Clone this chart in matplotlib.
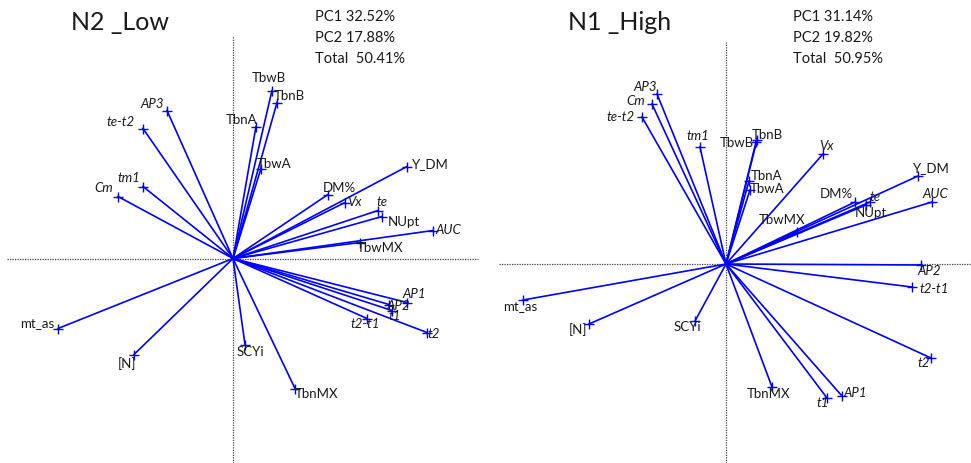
import matplotlib.pyplot as plt

plt.rcParams['font.family'] = ['Lato', 'DejaVu Sans']

# loadings (PC1, PC2)
low_names = ['AP3', 'te-t2', 'tm1', 'Cm', 'TbwB', 'TbnB', 'TbnA', 'TbwA',
             'Y_DM', 'DM%', 'Vx', 'te', 'NUpt', 'AUC', 'TbwMX', 'mt_as',
             '[N]', 'SCYi', 'TbnMX', 'AP1', 'AP2', 't1', 't2-t1', 't2']
low_pc1 = [-0.33, -0.45, -0.45, -0.575, 0.195, 0.22, 0.115, 0.14,
           0.87, 0.475, 0.56, 0.725, 0.745, 1.0, 0.635, -0.875,
           -0.495, 0.06, 0.31, 0.87, 0.78, 0.795, 0.67, 0.97]
low_pc2 = [0.74, 0.65, 0.36, 0.31, 0.84, 0.78, 0.66, 0.45,
           0.46, 0.32, 0.28, 0.24, 0.21, 0.14, 0.08, -0.35,
           -0.48, -0.43, -0.65, -0.22, -0.23, -0.26, -0.30, -0.37]

high_names = ['AP3', 'Cm', 'te-t2', 'tm1', 'TbnB', 'TbwB', 'Vx', 'Y_DM',
              'TbnA', 'TbwA', 'AUC', 'DM%', 'te', 'NUpt', 'TbwMX', 'AP2',
              't2-t1', 't2', 'TbnMX', 't1', 'AP1', 'mt_as', '[N]', 'SCYi']
high_pc1 = [-0.345, -0.37, -0.42, -0.13, 0.155, 0.15, 0.485, 0.96,
            0.115, 0.12, 1.03, 0.645, 0.72, 0.70, 0.355, 0.975,
            0.93, 1.025, 0.23, 0.505, 0.58, -1.015, -0.685, -0.155]
high_pc2 = [0.85, 0.80, 0.735, 0.585, 0.62, 0.61, 0.55, 0.44,
            0.415, 0.37, 0.31, 0.31, 0.31, 0.295, 0.16, -0.005,
            -0.115, -0.47, -0.615, -0.67, -0.66, -0.18, -0.30, -0.285]

titles = ['N2 _Low', 'N1 _High']
pc_text = ['PC1 32.52%\nPC2 17.88%\nTotal  50.41%',
           'PC1 31.14%\nPC2 19.82%\nTotal  50.95%']

italic = {'AP1', 'AP2', 'AP3', 'te-t2', 'tm1', 'Cm', 'Vx', 'te', 'AUC',
          't1', 't2', 't2-t1'}

# label placement: ha, dx, dy (pixels from the marker)
low_lab = {'AP3': ('right', -3, 7), 'te-t2': ('right', -8, 6),
           'tm1': ('right', -3, 9), 'Cm': ('right', -5, 8),
           'TbwB': ('center', -3, 12), 'TbnB': ('left', -3, 7),
           'TbnA': ('right', 1, 7), 'TbwA': ('left', -4, 4),
           'Y_DM': ('left', 5, 2), 'DM%': ('left', -5, 7),
           'Vx': ('left', 2, 0), 'te': ('left', -1, 8),
           'NUpt': ('left', 6, -5), 'AUC': ('left', 2, 0),
           'TbwMX': ('left', -3, -6), 'mt_as': ('right', -4, 5),
           '[N]': ('center', -7, -9), 'SCYi': ('left', -8, -8),
           'TbnMX': ('left', 0, -5), 'AP1': ('left', -5, 9),
           'AP2': ('left', -3, -1), 't1': ('left', -3, -6),
           't2-t1': ('left', -16, -5), 't2': ('left', 1, -2)}
high_lab = {'AP3': ('right', 0, 7), 'Cm': ('right', -7, 3),
            'te-t2': ('right', -7, 0), 'tm1': ('center', -2, 11),
            'TbnB': ('left', -5, 5), 'TbwB': ('right', -2, -1),
            'Vx': ('center', 4, 8), 'Y_DM': ('left', -5, 8),
            'TbnA': ('left', 2, 5), 'TbwA': ('left', 0, 1),
            'AUC': ('center', 3, 8), 'DM%': ('right', -2, 8),
            'te': ('left', 0, 5), 'NUpt': ('left', -11, -8),
            'TbwMX': ('center', -15, 12), 'AP2': ('left', -4, -6),
            't2-t1': ('left', 8, -2), 't2': ('center', -7, -5),
            'TbnMX': ('center', -3, -7), 't1': ('center', -4, -5),
            'AP1': ('left', 1, 3), 'mt_as': ('left', -20, -6),
            '[N]': ('center', -11, -6), 'SCYi': ('center', -8, -6)}

W, H = 971, 463
fig = plt.figure(figsize=(W / 100, H / 100), dpi=100)


def biplot(left_px, right_px, ox, oy, names, pc1, pc2, lab, hline, vtop):
    # 200 px per unit, origin at pixel (ox, oy)
    ax = fig.add_axes([left_px / W, 0, (right_px - left_px) / W, 1])
    ax.set_xlim(-(ox - left_px) / 200, (right_px - ox) / 200)
    ax.set_ylim(-(H - oy) / 200, oy / 200)
    ax.axis('off')
    ax.plot(hline, [0, 0], color='0.25', lw=0.9, ls=(0, (1, 1)))
    ax.plot([0, 0], [-(H - oy) / 200, vtop], color='0.25', lw=0.9, ls=(0, (1, 1)))
    for n, x, y in zip(names, pc1, pc2):
        ax.plot([0, x], [0, y], color='#0000ff', lw=1.2)
        ax.plot(x, y, marker='+', color='#0000ff', ms=7, mew=1)
        ha, dx, dy = lab[n]
        ax.annotate(n, (x, y), xytext=(dx, dy), textcoords='offset pixels',
                    ha=ha, va='center', fontsize=9.5,
                    style='italic' if n in italic else 'normal', color='#1a1a1a')
    return ax


biplot(0, 485, 233, 258.5, low_names, low_pc1, low_pc2, low_lab,
       [-1.13, 1.225], 1.1125)
biplot(490, 971, 726, 264, high_names, high_pc1, high_pc2, high_lab,
       [-1.135, 1.225], 1.11)

fig.text(71 / W, 1 - 23 / H, titles[0], fontsize=18, va='center', ha='left', color='#1a1a1a')
fig.text(568 / W, 1 - 23 / H, titles[1], fontsize=18, va='center', ha='left', color='#1a1a1a')
fig.text(315 / W, 1 - 38 / H, pc_text[0], fontsize=10.5, va='center', ha='left',
         linespacing=1.65, color='#1a1a1a')
fig.text(793 / W, 1 - 38 / H, pc_text[1], fontsize=10.5, va='center', ha='left',
         linespacing=1.65, color='#1a1a1a')

fig.savefig('out.png', dpi=100)
